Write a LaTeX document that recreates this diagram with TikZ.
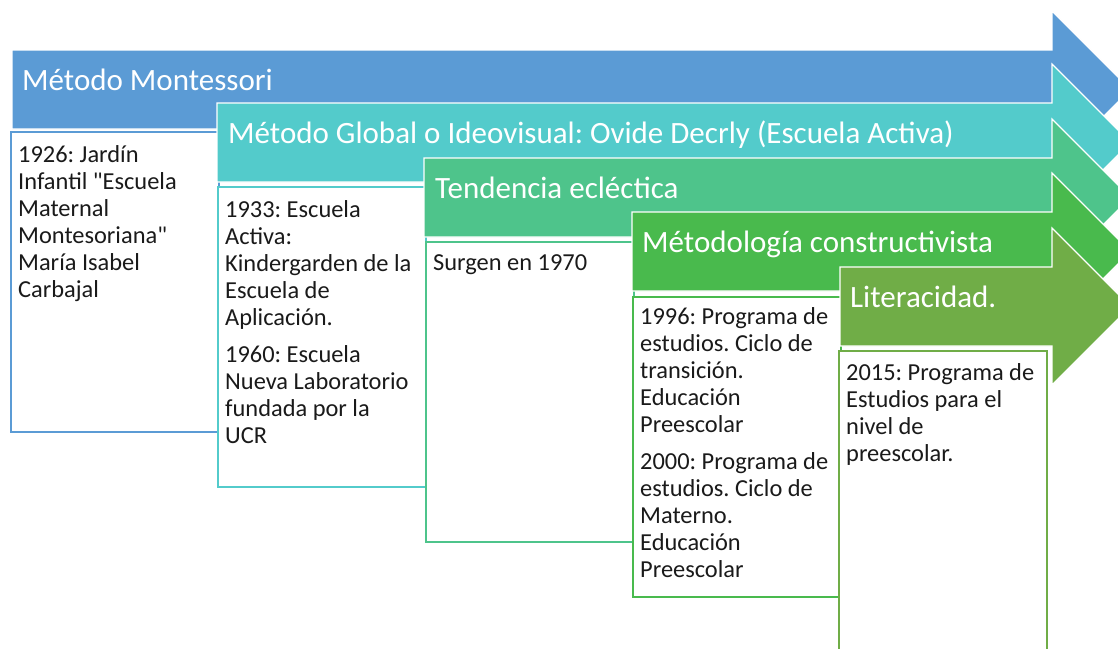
\documentclass[tikz,border=0pt]{standalone}
\usepackage{fontspec}
\setmainfont{Carlito}
\newfontfamily\qfont{Carlito}[Ligatures=TeXOff]
\frenchspacing
\definecolor{cA}{HTML}{5B9BD5}
\definecolor{cB}{HTML}{53CBCB}
\definecolor{cC}{HTML}{4EC48B}
\definecolor{cD}{HTML}{49BA4D}
\definecolor{cE}{HTML}{70AD47}
\definecolor{txt}{HTML}{1A1A1A}
\tikzset{
  arrowshape/.style={fill=#1, draw=white, line width=1.2pt, line join=miter},
  box/.style={draw=#1, fill=white, line width=2.2pt, minimum width=208pt, minimum height=300pt, anchor=north west, inner sep=0pt},
  title/.style={anchor=base west, inner sep=0pt, text=white, font=\fontsize{31}{36}\selectfont},
  body/.style={anchor=base west, inner sep=0pt, text=txt, font=\fontsize{24.4}{27}\selectfont}
}
\newcommand{\boxlines}[1]{\begin{tabular}[t]{@{}l@{}}#1\end{tabular}}
\newcommand{\sq}{{\qfont\char34}}
% #1 left x, #2 body top, #3 colour
\newcommand{\timearrow}[3]{%
  \pgfmathsetmacro{\arrBb}{#2+79}%
  \pgfmathsetmacro{\arrHt}{#2-39}%
  \pgfmathsetmacro{\arrCc}{#2+39.5}%
  \pgfmathsetmacro{\arrHb}{#2+118}%
  \fill[arrowshape=#3] (#1,#2) -- (1052,#2) -- (1052,\arrHt) -- (1130.5,\arrCc) -- (1052,\arrHb) -- (1052,\arrBb) -- (#1,\arrBb) -- cycle;%
}
\begin{document}
\begin{tikzpicture}[x=1pt,y=-1pt]
\useasboundingbox (0,0) rectangle (1118,648);
\clip (0,0) rectangle (1118,648);
\fill[white] (0,0) rectangle (1118,648);

% 1
\timearrow{12}{50}{cA}
\node[title] (t1) at (22,90) {Método Montessori};
\node[box=cA] (b1) at (10,131) {};
\node[body] (x1) at (18,162) {\boxlines{1926: Jardín\\Infantil \sq Escuela\\Maternal\\Montesoriana\sq\\María Isabel\\Carbajal}};

% 2
\timearrow{217}{103}{cB}
\node[title] (t2) at (228,143) {Método Global o Ideovisual: Ovide Decrly (Escuela Activa)};
\node[box=cB] (b2) at (217,186) {};
\node[body] (x2) at (225,217) {\boxlines{1933: Escuela\\Activa:\\Kindergarden de la\\Escuela de\\Aplicación.\\[10pt]1960: Escuela\\Nueva Laboratorio\\fundada por la\\UCR}};

% 3
\timearrow{424}{158}{cC}
\node[title] (t3) at (435,198) {Tendencia ecléctica};
\node[box=cC] (b3) at (425,241) {};
\node[body] (x3) at (433,270) {\boxlines{Surgen en 1970}};

% 4
\timearrow{632}{212}{cD}
\node[title] (t4) at (642,252) {Métodología constructivista};
\node[box=cD] (b4) at (632,296) {};
\node[body] (x4) at (640,324) {\boxlines{1996: Programa de\\estudios. Ciclo de\\transición.\\Educación\\Preescolar\\[10pt]2000: Programa de\\estudios. Ciclo de\\Materno.\\Educación\\Preescolar}};

% 5
\timearrow{840}{267}{cE}
\node[title] (t5) at (850,307) {Literacidad.};
\node[box=cE] (b5) at (838,350) {};
\node[body] (x5) at (846,380) {\boxlines{2015: Programa de\\Estudios para el\\nivel de\\preescolar.}};
\end{tikzpicture}
\end{document}
